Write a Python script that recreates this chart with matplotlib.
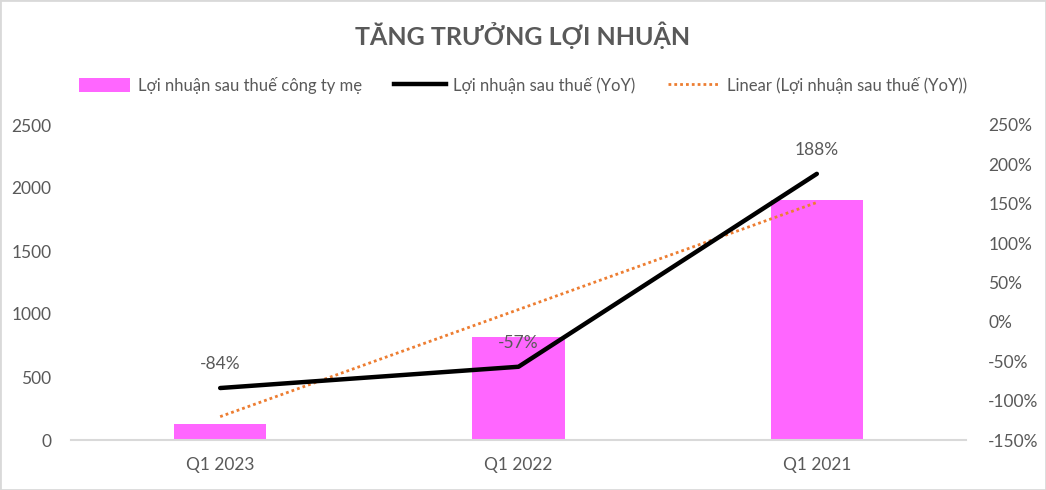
import matplotlib
matplotlib.use("Agg")
import matplotlib.pyplot as plt
import numpy as np
from matplotlib.lines import Line2D
from matplotlib.patches import Patch

plt.rcParams["font.family"] = ["Lato", "Noto Sans", "DejaVu Sans"]

# --- Data ------------------------------------------------------------------
quarters = ["Q1 2023", "Q1 2022", "Q1 2021"]
profit_parent = [127, 817, 1905]          # Lợi nhuận sau thuế công ty mẹ
profit_yoy = [-84, -57, 188]              # Lợi nhuận sau thuế (YoY), %
yoy_labels = ["-84%", "-57%", "188%"]

title = "TĂNG TRƯỞNG LỢI NHUẬN"
legend_labels = [
    "Lợi nhuận sau thuế công ty mẹ",
    "Lợi nhuận sau thuế (YoY)",
    "Linear (Lợi nhuận sau thuế (YoY))",
]

TEXT = "#595959"
PINK = "#FF66FF"
ORANGE = "#ED7D31"
AXIS = "#D9D9D9"
DOTS = (0, (1, 1.1))

x = np.arange(len(quarters))
# Excel-style linear trendline for the YoY series
slope, intercept = np.polyfit(x, profit_yoy, 1)
trend = slope * x + intercept

fig = plt.figure(figsize=(10.46, 4.9), dpi=100)
ax = fig.add_axes([71 / 1046, 1 - 440 / 490, (966 - 71) / 1046, 315 / 490])
ax2 = ax.twinx()

ax.bar(x, profit_parent, width=0.31, color=PINK, zorder=2)
ax2.plot(x, trend, color=ORANGE, lw=2, linestyle=DOTS, zorder=3)
ax2.plot(x, profit_yoy, color="black", lw=3.2, solid_capstyle="round", zorder=4)

for xi, yi, lab in zip(x, profit_yoy, yoy_labels):
    ax2.annotate(lab, (xi, yi), xytext=(0, 17), textcoords="offset points",
                 ha="center", va="center", fontsize=12.5, color=TEXT)

ax.set_xlim(-0.5, 2.5)
ax.set_ylim(0, 2500)
ax.set_yticks(np.arange(0, 2501, 500))
ax2.set_ylim(-150, 250)
ax2.set_yticks(np.arange(-150, 251, 50))
ax2.set_yticklabels([f"{v}%" for v in range(-150, 251, 50)])
ax.set_xticks(x)
ax.set_xticklabels(quarters)

for a in (ax, ax2):
    for s in a.spines.values():
        s.set_visible(False)
    a.tick_params(length=0, labelsize=12.5, labelcolor=TEXT)
ax.spines["bottom"].set_visible(True)
ax.spines["bottom"].set_color(AXIS)
ax.spines["bottom"].set_linewidth(1.5)
ax.tick_params(axis="y", pad=14)
ax.tick_params(axis="x", pad=12)
ax2.tick_params(axis="y", pad=16)

fig.text(523 / 1046, 1 - 35 / 490, title, ha="center", va="center",
         fontsize=18, fontweight="bold", color=TEXT)

handles = [
    Patch(facecolor=PINK),
    Line2D([], [], color="black", lw=3.2),
    Line2D([], [], color=ORANGE, lw=2, linestyle=DOTS),
]
fig.legend(handles, legend_labels, loc="center", bbox_to_anchor=(0.5, 1 - 85 / 490),
           ncol=3, frameon=False, fontsize=12, labelcolor=TEXT,
           handlelength=3.1, handleheight=0.9, columnspacing=1.95, handletextpad=0.45)

fig.patches.append(plt.Rectangle((0, 0), 1, 1, transform=fig.transFigure,
                                 fill=False, edgecolor=AXIS, lw=2))

fig.savefig("out.png", dpi=100)
